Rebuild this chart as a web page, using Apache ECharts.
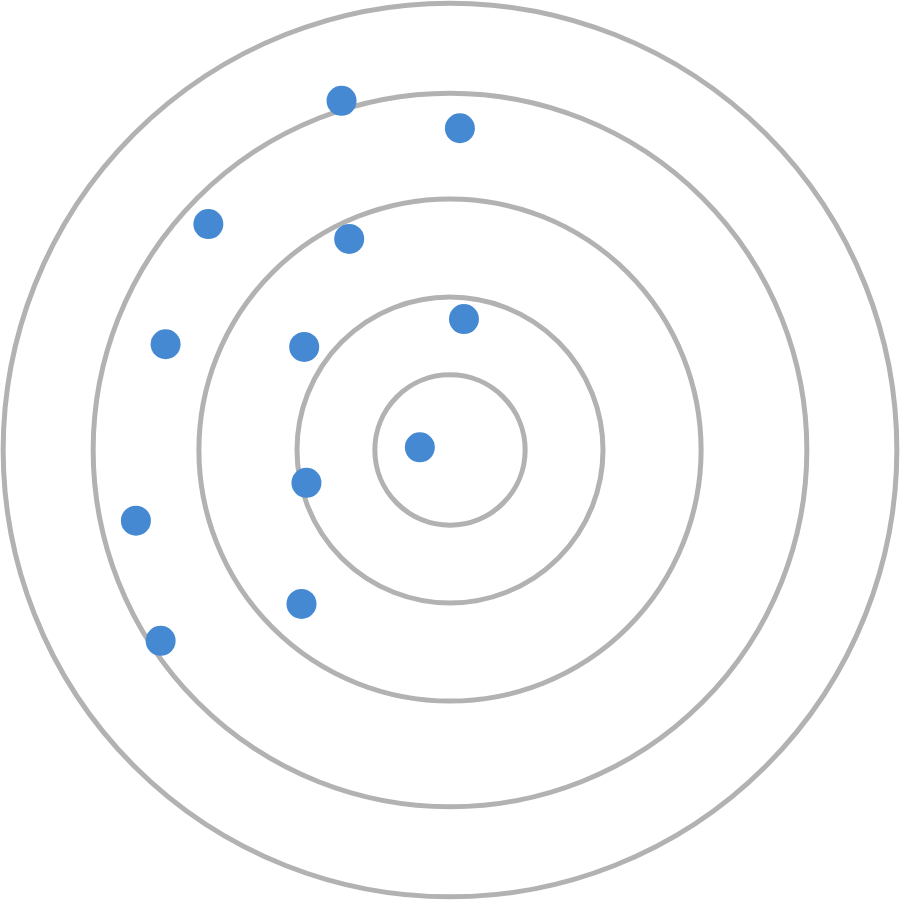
<!DOCTYPE html>
<html>
<head>
<meta charset="utf-8">
<script src="https://cdn.jsdelivr.net/npm/echarts@6/dist/echarts.min.js"></script>
<style>
  html, body { margin: 0; padding: 0; background: #fff; }
  #target { width: 900px; height: 900px; }
</style>
</head>
<body>
<div id="target"></div>
<script>
// ring radii, in the same units as the points (axis runs -100..100)
const ringRadii = [16.7, 34.0, 55.8, 79.3, 99.3];

// points, x / y relative to the centre
const pointX = [-24.1, 2.2, -53.7, -22.4, 3.1, -63.2, -32.4, -6.7, -31.9, -69.8, -33.0, -64.3];
const pointY = [77.6, 71.5, 50.2, 46.9, 29.1, 23.5, 22.9, 0.6, -7.3, -15.7, -34.2, -42.4];

const chart = echarts.init(document.getElementById("target"));

const points = pointX.map(function (x, i) {
  return [x, pointY[i]];
});

const option = {
  animation: false,
  grid: { left: 0, right: 0, top: 0, bottom: 0 },
  xAxis: { type: "value", min: -100, max: 100, show: false },
  yAxis: { type: "value", min: -100, max: 100, show: false },
  polar: { center: ["50%", "50%"], radius: 450 },
  angleAxis: {
    type: "value",
    min: 0,
    max: 360,
    show: false
  },
  radiusAxis: {
    type: "value",
    min: 0,
    max: 100,
    axisLine: { show: false },
    axisLabel: { show: false },
    axisTick: { show: false, customValues: ringRadii },
    splitLine: {
      show: true,
      lineStyle: { color: "#b2b2b2", width: 5 }
    }
  },
  series: [
    {
      type: "scatter",
      data: points,
      symbol: "circle",
      symbolSize: 30,
      itemStyle: { color: "#4589d3", opacity: 1 },
      z: 10
    }
  ]
};

chart.setOption(option);
</script>
</body>
</html>
